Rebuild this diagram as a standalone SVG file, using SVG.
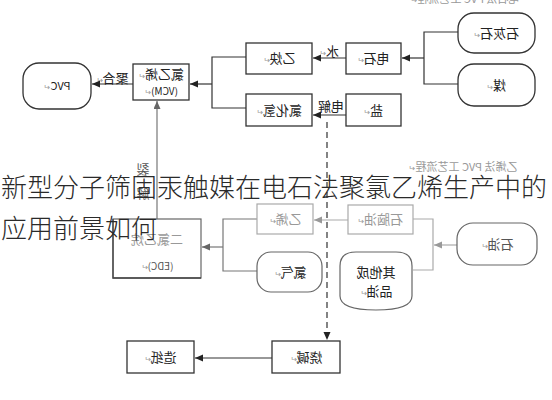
<svg xmlns="http://www.w3.org/2000/svg" width="552" height="400" viewBox="0 0 552 400">
<defs>
<style>
.bx{fill:#fff;stroke:#333;stroke-width:1.3}
.bxl{fill:#fff;stroke:#aaa;stroke-width:1.2}
.bxm{fill:#fff;stroke:#666;stroke-width:1.2}
.t{font-family:"Noto Sans CJK SC","Liberation Sans",sans-serif;font-size:13px;fill:#222;text-anchor:middle}
.tl{fill:#999}
.tm{fill:#555}
.pm{font-size:8px;fill:#999}
.c{fill:none;stroke:#333;stroke-width:1.2}
.cm{fill:none;stroke:#777;stroke-width:1.2}
.cl{fill:none;stroke:#aaa;stroke-width:1.2}
.title{font-family:"Noto Sans CJK SC","Liberation Sans",sans-serif;font-size:26px;font-weight:300;fill:#2a2a2a}
</style>
<marker id="a" markerWidth="9" markerHeight="8" refX="8" refY="3.5" orient="auto" markerUnits="userSpaceOnUse"><path d="M0,0 L8,3.5 L0,7 z" fill="#222"/></marker>
<marker id="am" markerWidth="9" markerHeight="8" refX="8" refY="3.5" orient="auto" markerUnits="userSpaceOnUse"><path d="M0,0 L8,3.5 L0,7 z" fill="#666"/></marker>
<marker id="al" markerWidth="9" markerHeight="8" refX="8" refY="3.5" orient="auto" markerUnits="userSpaceOnUse"><path d="M0,0 L8,3.5 L0,7 z" fill="#999"/></marker>
</defs>
<rect width="552" height="400" fill="#fff"/>

<g id="connectors">
<path class="c" d="M133,84 H92" marker-end="url(#a)"/>
<path class="c" d="M246,57 H212 V108 H246"/>
<path class="c" d="M212,84 H190" marker-end="url(#a)"/>
<path class="c" d="M346,58 H313" marker-end="url(#a)"/>
<path class="c" d="M346,115 H313" marker-end="url(#a)"/>
<path class="c" d="M458,32 H424 V84 H458"/>
<path class="c" d="M424,58 H402" marker-end="url(#a)"/>
<path class="c" d="M327,122 V340" stroke-dasharray="6,4" stroke="#444" marker-end="url(#a)"/>
<path class="cm" d="M157,219 V101" stroke="#555" marker-end="url(#am)"/>
<path class="cm" d="M257,219 H223 V271 H257"/>
<path class="cm" d="M223,247 H202" marker-end="url(#am)"/>
<path class="cl" d="M348,220 H314" marker-end="url(#al)"/>
<path class="cl" d="M413,219 H433 V270 H413"/>
<path class="cl" d="M457,245 H434" marker-end="url(#al)"/>
<path class="c" d="M272,358 H195" marker-end="url(#a)"/>
</g>

<g id="caption-top"><text class="t tl" style="font-size:11px" transform="matrix(-1 0 0 1 465 3)">电石法 PVC 工艺流程<tspan class="pm">↵</tspan></text></g>

<g id="pvc"><rect class="bx" x="23" y="63" width="68" height="46" rx="16"/><text class="t" style="font-size:11px" transform="matrix(-1 0 0 1 57 90)">PVC<tspan class="pm">↵</tspan></text></g>
<g id="label-polymer"><text class="t" transform="matrix(-1 0 0 1 112 83)">聚合<tspan class="pm">↵</tspan></text></g>
<g id="vcm"><rect class="bx" x="133" y="64" width="56" height="36" rx="0"/><text class="t" transform="matrix(-1 0 0 1 161 79)">氯乙烯<tspan class="pm">↵</tspan></text><text class="t" style="font-size:10px" transform="matrix(-1 0 0 1 161 95)">(VCM)<tspan class="pm">↵</tspan></text></g>
<g id="acetylene"><rect class="bx" x="246" y="43" width="66" height="31"/><text class="t" transform="matrix(-1 0 0 1 279 63)">乙炔<tspan class="pm">↵</tspan></text></g>
<g id="hcl"><rect class="bx" x="246" y="94" width="66" height="32"/><text class="t" transform="matrix(-1 0 0 1 279 115)">氯化氢<tspan class="pm">↵</tspan></text></g>
<g id="carbide"><rect class="bx" x="346" y="43" width="55" height="31"/><text class="t" transform="matrix(-1 0 0 1 373 63)">电石<tspan class="pm">↵</tspan></text></g>
<g id="salt"><rect class="bx" x="346" y="94" width="55" height="32"/><text class="t" transform="matrix(-1 0 0 1 373 115)">盐<tspan class="pm">↵</tspan></text></g>
<g id="label-water"><text class="t" transform="matrix(-1 0 0 1 329 56)">水<tspan class="pm">↵</tspan></text></g>
<g id="label-electrolysis"><text class="t" transform="matrix(-1 0 0 1 331 111)">电解</text></g>
<g id="limestone"><rect class="bx" x="458" y="13" width="77" height="40" rx="16"/><text class="t" transform="matrix(-1 0 0 1 496 38)">石灰石<tspan class="pm">↵</tspan></text></g>
<g id="coal"><rect class="bx" x="458" y="64" width="77" height="42" rx="16"/><text class="t" transform="matrix(-1 0 0 1 496 90)">煤<tspan class="pm">↵</tspan></text></g>

<g id="label-cracking"><text class="t tm" transform="matrix(-1 0 0 1 143 174)">裂</text><text class="t tm" transform="matrix(-1 0 0 1 143 198)">解</text></g>
<g id="caption-mid"><text class="t tl" style="font-size:11px" transform="matrix(-1 0 0 1 463 171)">乙烯法 PVC 工艺流程<tspan class="pm">↵</tspan></text></g>
<g id="edc"><rect class="bxm" x="113" y="219" width="88" height="59" stroke="#999"/><path d="M113,219 V278 H201" fill="none" stroke="#444" stroke-width="1.3"/><text class="t tl" transform="matrix(-1 0 0 1 157 244)">二氯乙烷</text><text class="t tm" style="font-size:10px" transform="matrix(-1 0 0 1 157 270)">(EDC)<tspan class="pm">↵</tspan></text></g>
<g id="ethylene"><rect class="bxl" x="257" y="204" width="56" height="30"/><text class="t tl" transform="matrix(-1 0 0 1 285 224)">乙烯<tspan class="pm">↵</tspan></text></g>
<g id="chlorine"><rect class="bxm" x="257" y="252" width="65" height="40" rx="14" stroke="#444"/><text class="t" transform="matrix(-1 0 0 1 290 277)">氯气<tspan class="pm">↵</tspan></text></g>
<g id="naphtha"><rect class="bxl" x="348" y="205" width="65" height="29"/><text class="t tl" transform="matrix(-1 0 0 1 380 224)">石脑油<tspan class="pm">↵</tspan></text></g>
<g id="other-oil"><path class="bxm" stroke="#444" d="M340,266 Q340,252 356,252 H396 Q412,252 412,266 V296 Q412,310 376,310 Q340,310 340,296 Z"/><text class="t" transform="matrix(-1 0 0 1 376 277)">其他成</text><text class="t" transform="matrix(-1 0 0 1 376 296)">品油<tspan class="pm">↵</tspan></text></g>
<g id="petroleum"><rect class="bxm" x="457" y="223" width="80" height="42" rx="16" stroke="#777"/><text class="t tm" transform="matrix(-1 0 0 1 497 249)">石油<tspan class="pm">↵</tspan></text></g>

<g id="caustic"><rect class="bx" x="272" y="341" width="68" height="32"/><text class="t" transform="matrix(-1 0 0 1 306 362)">烧碱<tspan class="pm">↵</tspan></text></g>
<g id="paper"><rect class="bx" x="127" y="341" width="67" height="32"/><text class="t" transform="matrix(-1 0 0 1 160 362)">造纸<tspan class="pm">↵</tspan></text></g>

<g id="title"><text class="title" x="1" y="197">新型分子筛固汞触媒在电石法聚氯乙烯生产中的</text><text class="title" x="1" y="238">应用前景如何</text></g>
</svg>
